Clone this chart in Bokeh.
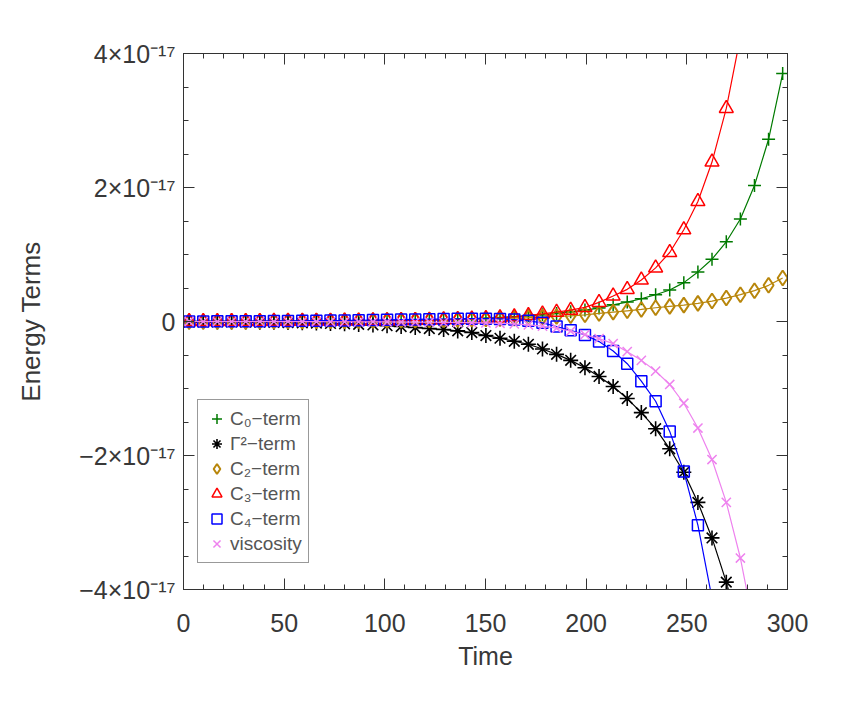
import numpy as np
from bokeh.plotting import figure
from bokeh.models import (Range1d, FixedTicker, LinearAxis, Legend, LegendItem,
                          CustomJSTickFormatter)
from bokeh.embed import file_html
from bokeh.resources import INLINE

# ---- data (energy values in units of 1e-17) ----
time = [2.8, 9.8, 16.8, 23.9, 30.9, 37.9, 44.9, 51.9, 59.0, 66.0, 73.0, 80.0,
        87.0, 94.1, 101.1, 108.1, 115.1, 122.1, 129.2, 136.2, 143.2, 150.2,
        157.2, 164.3, 171.3, 178.3, 185.3, 192.3, 199.4, 206.4, 213.4, 220.4,
        227.4, 234.5, 241.5, 248.5, 255.5, 262.5, 269.6, 276.6, 283.6, 290.6, 297.6]

c0_term = [0.000, 0.001, 0.001, 0.001, 0.002, 0.002, 0.003, 0.003, 0.004, 0.005,
           0.006, 0.007, 0.009, 0.011, 0.013, 0.016, 0.019, 0.023, 0.028, 0.034,
           0.042, 0.050, 0.060, 0.072, 0.086, 0.10, 0.12, 0.145, 0.17, 0.20,
           0.25, 0.29, 0.34, 0.40, 0.47, 0.58, 0.74, 0.93, 1.19, 1.53, 2.03, 2.72, 3.70]

gamma2_term = [-0.004, -0.005, -0.006, -0.007, -0.009, -0.011, -0.013, -0.016, -0.020,
               -0.024, -0.029, -0.035, -0.043, -0.052, -0.062, -0.075, -0.09, -0.105,
               -0.12, -0.14, -0.165, -0.21, -0.25, -0.295, -0.34, -0.41, -0.49, -0.58,
               -0.69, -0.82, -0.97, -1.15, -1.36, -1.60, -1.90, -2.25, -2.70, -3.23,
               -3.89, -4.65, -5.6, -6.7, -8.0]

c2_term = [0.000, 0.001, 0.001, 0.002, 0.002, 0.003, 0.004, 0.005, 0.006, 0.007,
           0.008, 0.010, 0.012, 0.014, 0.016, 0.018, 0.020, 0.023, 0.026, 0.029,
           0.033, 0.037, 0.043, 0.050, 0.057, 0.065, 0.075, 0.085, 0.10, 0.12,
           0.14, 0.16, 0.18, 0.205, 0.225, 0.245, 0.27, 0.305, 0.35, 0.40, 0.46, 0.54, 0.65]

c3_term = [0.000, 0.001, 0.001, 0.001, 0.002, 0.002, 0.003, 0.003, 0.004, 0.005,
           0.006, 0.007, 0.008, 0.010, 0.012, 0.014, 0.017, 0.020, 0.025, 0.030,
           0.037, 0.045, 0.055, 0.070, 0.090, 0.113, 0.14, 0.17, 0.21, 0.285,
           0.38, 0.48, 0.62, 0.80, 1.03, 1.37, 1.79, 2.38, 3.18, 4.25, 5.7, 7.6, 10.1]

c4_term = [0.000, 0.001, 0.002, 0.003, 0.004, 0.005, 0.006, 0.008, 0.010, 0.012,
           0.014, 0.016, 0.019, 0.022, 0.025, 0.028, 0.031, 0.034, 0.037, 0.040,
           0.042, 0.042, 0.038, 0.028, 0.010, -0.02, -0.075, -0.13, -0.20, -0.30,
           -0.44, -0.63, -0.89, -1.19, -1.64, -2.24, -3.04, -4.13, -5.6, -7.5,
           -10.0, -13.4, -18.0]

viscosity = [0.000, -0.001, -0.001, -0.001, -0.001, -0.002, -0.002, -0.002, -0.003,
             -0.003, -0.004, -0.004, -0.005, -0.006, -0.007, -0.008, -0.009, -0.011,
             -0.013, -0.015, -0.018, -0.022, -0.027, -0.035, -0.05, -0.07, -0.10,
             -0.145, -0.195, -0.255, -0.33, -0.45, -0.58, -0.74, -0.94, -1.22, -1.59,
             -2.06, -2.70, -3.53, -4.6, -6.0, -7.8]

x_ticks = [0, 50, 100, 150, 200, 250, 300]
x_minor = [v for v in range(0, 301, 10)]
y_ticks = [-4, -2, 0, 2, 4]
y_minor = [v / 2 for v in range(-8, 9)]
y_tick_labels = {-4: "\u22124\u00d710\u207b\u00b9\u2077", -2: "\u22122\u00d710\u207b\u00b9\u2077",
                 0: "0", 2: "2\u00d710\u207b\u00b9\u2077", 4: "4\u00d710\u207b\u00b9\u2077"}

series_labels = ["C\u2080\u2212term", "\u0393\u00b2\u2212term", "C\u2082\u2212term",
                 "C\u2083\u2212term", "C\u2084\u2212term", "viscosity"]

FONT = "Liberation Sans"
TXT = "#383838"

p = figure(width=847, height=691, output_backend="svg", toolbar_location=None,
           x_range=Range1d(0, 300), y_range=Range1d(-4, 4),
           min_border_left=183, min_border_right=60, min_border_top=53,
           min_border_bottom=102)
p.xgrid.visible = False
p.ygrid.visible = False
p.outline_line_color = None
p.background_fill_color = "white"
p.border_fill_color = "white"

def style_axis(ax, ticks, minor):
    ax.ticker = FixedTicker(ticks=ticks, minor_ticks=minor)
    ax.axis_line_color = "#333333"
    ax.axis_line_width = 1
    ax.major_tick_line_color = "#333333"
    ax.minor_tick_line_color = "#333333"
    ax.major_tick_in = 11
    ax.major_tick_out = 0
    ax.minor_tick_in = 5
    ax.minor_tick_out = 0
    ax.major_label_text_font = FONT
    ax.major_label_text_font_size = "25px"
    ax.major_label_text_color = TXT

xa = p.xaxis[0]
style_axis(xa, x_ticks, x_minor)
xa.major_label_standoff = 24
xa.axis_label = "Time"
xa.axis_label_text_font = FONT
xa.axis_label_text_font_size = "25px"
xa.axis_label_text_font_style = "normal"
xa.axis_label_text_color = TXT
xa.axis_label_standoff = 7

ya = p.yaxis[0]
style_axis(ya, y_ticks, y_minor)
ya.major_label_standoff = 8
ya.major_label_overrides = y_tick_labels
ya.axis_label = "Energy Terms"
ya.axis_label_text_font = FONT
ya.axis_label_text_font_size = "26px"
ya.axis_label_text_font_style = "normal"
ya.axis_label_text_color = TXT
ya.axis_label_standoff = 30

blank = CustomJSTickFormatter(code="return ''")
top = LinearAxis(formatter=blank)
style_axis(top, x_ticks, x_minor)
top.major_label_text_font_size = "1px"
top.major_label_standoff = 0
p.add_layout(top, "above")
right = LinearAxis(formatter=blank)
style_axis(right, y_ticks, y_minor)
right.major_label_text_font_size = "1px"
right.major_label_standoff = 0
p.add_layout(right, "right")

styles = [
    dict(values=c0_term, color="#007a00", marker="cross", size=13, lw=1.5),
    dict(values=gamma2_term, color="#000000", marker="asterisk", size=15, lw=1.6),
    dict(values=c2_term, color="#b8860b", marker="diamond", size=15, lw=2.0),
    dict(values=c3_term, color="#ff0000", marker="triangle", size=14, lw=1.5),
    dict(values=c4_term, color="#0000ff", marker="square", size=11, lw=1.5),
    dict(values=viscosity, color="#ee82ee", marker="x", size=13, lw=1.5),
]

items = []
for lab, st in zip(series_labels, styles):
    p.line(time, st["values"], line_color=st["color"], line_width=1.2)
    r = p.scatter(time, st["values"], marker=st["marker"], size=st["size"],
                  line_color=st["color"], line_width=st["lw"], fill_color=None)
    items.append(LegendItem(label=lab, renderers=[r]))

legend = Legend(items=items, location=(14, 26), margin=0, padding=6, spacing=0,
                glyph_width=25, glyph_height=25, label_height=25, label_standoff=1,
                label_text_font=FONT, label_text_font_size="19px",
                label_text_color="#555555", border_line_color="#333333",
                border_line_width=1, background_fill_color="white",
                background_fill_alpha=1.0)
p.add_layout(legend)

open("out.html", "w").write(file_html(p, INLINE))
